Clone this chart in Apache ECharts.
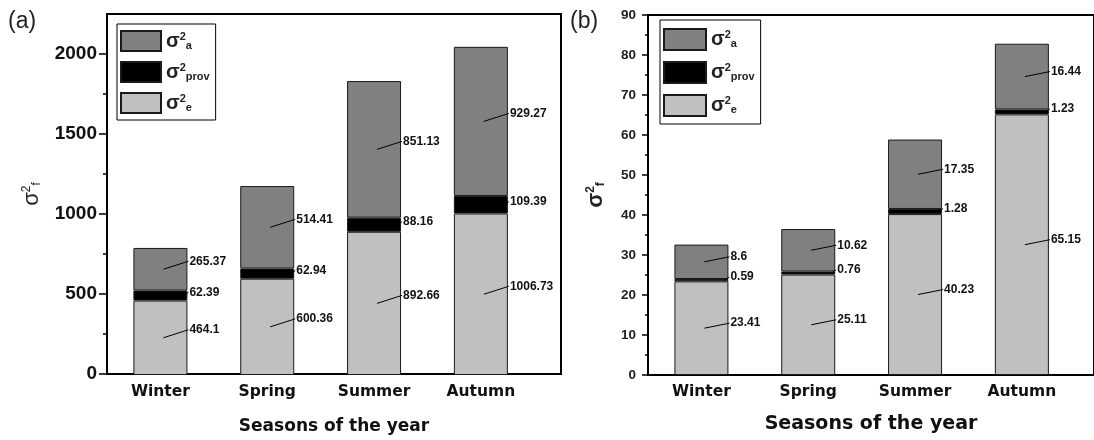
<!DOCTYPE html>
<html>
<head>
<meta charset="utf-8">
<script src="https://cdn.jsdelivr.net/npm/echarts@6/dist/echarts.min.js"></script>
<style>
  html, body { margin: 0; padding: 0; background: #fff; }
  #chart { width: 1094px; height: 440px; }
</style>
</head>
<body>
<div id="chart"></div>
<script>
// Seasons (category axis)
const seasons = ['Winter', 'Spring', 'Summer', 'Autumn'];

// Panel (a): variance components
const aE = [464.1, 600.36, 892.66, 1006.73];
const aProv = [62.39, 62.94, 88.16, 109.39];
const aA = [265.37, 514.41, 851.13, 929.27];

// Panel (b): variance components
const bE = [23.41, 25.11, 40.23, 65.15];
const bProv = [0.59, 0.76, 1.28, 1.23];
const bA = [8.6, 10.62, 17.35, 16.44];

// Tick values of the left axis in panel (a)
const aMajorTicks = [0, 500, 1000, 1500, 2000];
const aMinorTicks = [250, 750, 1250, 1750];

const ARIAL = "'Liberation Sans', Arial, sans-serif";
const SANS = "'DejaVu Sans', Verdana, sans-serif";
const COLORS = { e: '#c0c0c0', prov: '#000000', a: '#808080' };
const BAR_W = 54;

// Frame box is 454 px wide and spans 4.25 category widths; bars use the first 4
const FRAME_W = 454;
const BAND_W = FRAME_W / 4.25;
const DATA_W = BAND_W * 4;

const chart = echarts.init(document.getElementById('chart'), null, { renderer: 'canvas' });

function barSeries(name, values, xIdx, yIdx) {
  return {
    type: 'bar',
    name: name,
    xAxisIndex: xIdx,
    yAxisIndex: yIdx,
    stack: 'total' + xIdx,
    barWidth: BAR_W,
    itemStyle: { color: COLORS[name], borderColor: '#1a1a1a', borderWidth: 1 },
    emphasis: { disabled: true },
    data: values
  };
}

// Value labels with short leader lines, anchored on the stacked segments
function labelSeries(comp, xIdx, yIdx, rise) {
  const data = [];
  seasons.forEach((s, i) => {
    let base = 0;
    [comp.e, comp.prov, comp.a].forEach((arr, k) => {
      data.push([i, base, arr[i], k]);
      base += arr[i];
    });
  });
  return {
    type: 'custom',
    xAxisIndex: xIdx,
    yAxisIndex: yIdx,
    z: 5,
    silent: true,
    dimensions: ['cat', 'base', 'val', 'kind'],
    encode: { x: 'cat', y: 'base' },
    data: data,
    renderItem: function (params, api) {
      const x = api.value(0), base = api.value(1), v = api.value(2), kind = api.value(3);
      const c = api.coord([x, base + v / 2]);
      const cx = c[0], my = c[1];
      const half = BAR_W / 2;
      let x1, y1, x2, y2;
      if (kind === 1) {
        x1 = cx + half - 4; y1 = my; x2 = cx + half + 1; y2 = my - 3;
      } else {
        x1 = cx + 3; y1 = my; x2 = cx + half + 1; y2 = my - rise;
      }
      return {
        type: 'group',
        children: [
          { type: 'line', shape: { x1, y1, x2, y2 }, style: { stroke: '#000', lineWidth: 1 } },
          {
            type: 'text',
            style: {
              x: x2 + 1, y: y2, text: String(v),
              fill: '#111', font: "bold 12px " + ARIAL,
              align: 'left', verticalAlign: 'middle'
            }
          }
        ]
      };
    }
  };
}

// Bottom axis line of the frame, with the axis title
function frameXAxis(gridIdx, nameSize, nameGap) {
  return {
    type: 'value',
    gridIndex: gridIdx,
    min: 0, max: 1,
    axisLine: { show: true, onZero: false, lineStyle: { color: '#000', width: 2 } },
    axisTick: { show: false },
    axisLabel: { show: false },
    splitLine: { show: false },
    name: 'Seasons of the year',
    nameLocation: 'middle',
    nameGap: nameGap,
    nameTextStyle: { fontFamily: SANS, fontWeight: 'bold', fontSize: nameSize, color: '#111' }
  };
}

// Category axis carrying the bars and season labels
function dataXAxis(gridIdx) {
  return {
    type: 'category',
    gridIndex: gridIdx,
    data: seasons,
    boundaryGap: true,
    axisLine: { show: false },
    axisTick: { show: false },
    splitLine: { show: false },
    axisLabel: { fontFamily: SANS, fontWeight: 'bold', fontSize: 15.5, color: '#111', margin: 9 }
  };
}

function hiddenYAxis(gridIdx, max) {
  return {
    type: 'value', gridIndex: gridIdx, min: 0, max: max,
    axisLine: { show: false }, axisTick: { show: false },
    axisLabel: { show: false }, splitLine: { show: false }
  };
}

function sigmaRich(size, weight) {
  const small = Math.round(size * 0.55);
  return {
    s: { fontFamily: ARIAL, fontSize: size, fontWeight: weight, color: '#222', lineHeight: size },
    sup: { fontFamily: ARIAL, fontSize: small, fontWeight: weight, color: '#222', verticalAlign: 'top', lineHeight: size },
    sub: { fontFamily: ARIAL, fontSize: small, fontWeight: weight, color: '#222', verticalAlign: 'bottom', lineHeight: size }
  };
}

function legendFor(left, top, w, h, gap, padding, size) {
  return {
    orient: 'vertical',
    left: left,
    top: top,
    data: ['a', 'prov', 'e'],
    icon: 'rect',
    itemWidth: w,
    itemHeight: h,
    itemGap: gap,
    padding: padding,
    borderColor: '#000',
    borderWidth: 1,
    selectedMode: false,
    formatter: name => '{s|σ}{sup|2}{sub|' + name + '}',
    textStyle: { rich: sigmaRich(size, 'bold') }
  };
}

const frameStyle = { show: true, borderColor: '#000', borderWidth: 2, backgroundColor: 'transparent' };

const option = {
  animation: false,
  backgroundColor: '#fff',
  grid: [
    Object.assign({ left: 107, top: 14, width: FRAME_W, height: 361 }, frameStyle),
    { left: 107, top: 14, width: DATA_W, height: 361 },
    Object.assign({ left: 648, top: 15, width: FRAME_W, height: 360 }, frameStyle),
    { left: 648, top: 15, width: DATA_W, height: 360 }
  ],
  xAxis: [
    frameXAxis(0, 17, 44),
    dataXAxis(1),
    frameXAxis(2, 19, 40),
    dataXAxis(3)
  ],
  yAxis: [
    {
      type: 'value', gridIndex: 0, position: 'left', min: 0, max: 2250, interval: 500,
      axisLine: { show: true, lineStyle: { color: '#000', width: 2 } },
      axisTick: { show: true, length: 8, customValues: aMajorTicks, lineStyle: { color: '#000', width: 1.5 } },
      axisLabel: {
        customValues: aMajorTicks, formatter: v => String(v),
        fontFamily: ARIAL, fontWeight: 'bold', fontSize: 19, color: '#111', margin: 10
      },
      splitLine: { show: false },
      name: '{s|σ}{sup|2}{sub|f}',
      nameLocation: 'middle', nameRotate: 90, nameGap: 64,
      nameTextStyle: { rich: sigmaRich(22, 'normal') }
    },
    {
      type: 'value', gridIndex: 0, position: 'left', offset: 0, min: 0, max: 2250, interval: 250,
      axisLine: { show: false },
      axisTick: { show: true, length: 4, customValues: aMinorTicks, lineStyle: { color: '#000', width: 1.5 } },
      axisLabel: { show: false },
      splitLine: { show: false }
    },
    hiddenYAxis(1, 2250),
    {
      type: 'value', gridIndex: 2, position: 'left', min: 0, max: 90, interval: 10,
      axisLine: { show: true, lineStyle: { color: '#000', width: 2 } },
      axisTick: { show: true, length: 6, lineStyle: { color: '#000', width: 1.5 } },
      minorTick: { show: true, splitNumber: 2, length: 3, lineStyle: { color: '#000', width: 1.5 } },
      axisLabel: { formatter: v => String(v), fontFamily: ARIAL, fontWeight: 'bold', fontSize: 13.5, color: '#222', margin: 12 },
      splitLine: { show: false },
      name: '{s|σ}{sup|2}{sub|f}',
      nameLocation: 'middle', nameRotate: 90, nameGap: 41,
      nameTextStyle: { rich: sigmaRich(22, 'bold') }
    },
    hiddenYAxis(3, 90)
  ],
  legend: [
    legendFor(117, 24, 40, 20, 9, [6, 6, 6, 3], 20),
    legendFor(660, 20, 42, 21, 10, [8, 6, 7, 3], 20)
  ],
  graphic: [
    { type: 'text', left: 8, top: 10, style: { text: '(a)', font: "23px " + ARIAL, fill: '#222' } },
    { type: 'text', left: 570, top: 10, style: { text: '(b)', font: "23px " + ARIAL, fill: '#222' } }
  ],
  series: [
    barSeries('e', aE, 1, 2),
    barSeries('prov', aProv, 1, 2),
    barSeries('a', aA, 1, 2),
    barSeries('e', bE, 3, 4),
    barSeries('prov', bProv, 3, 4),
    barSeries('a', bA, 3, 4),
    labelSeries({ e: aE, prov: aProv, a: aA }, 1, 2, 8),
    labelSeries({ e: bE, prov: bProv, a: bA }, 3, 4, 5)
  ]
};

chart.setOption(option);
</script>
</body>
</html>
